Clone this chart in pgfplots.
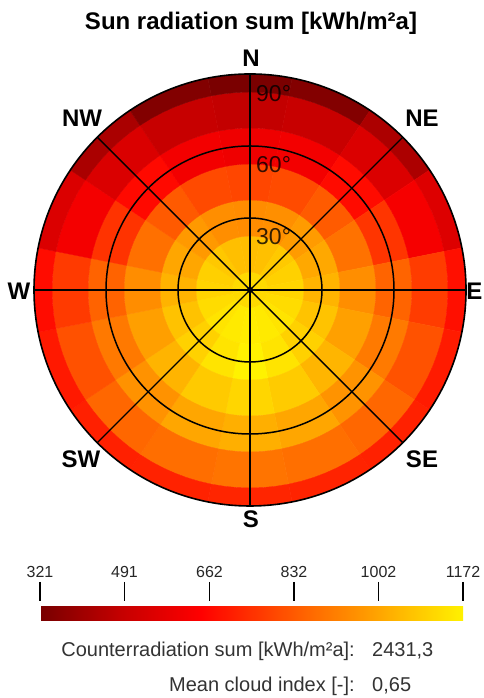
\documentclass[border=0pt]{standalone}
\usepackage{pgfplots}
\pgfplotsset{compat=1.18}
\usepackage{pgfplotstable}
\usepgfplotslibrary{patchplots}
\usepackage{fontspec}
\setmainfont{Liberation Sans}

\newcommand\titlefont{\fontsize{24pt}{24pt}\selectfont\bfseries}
\newcommand\dirfont{\fontsize{24pt}{24pt}\selectfont\bfseries}
\newcommand\degfont{\fontsize{23pt}{23pt}\selectfont}
\newcommand\infofont{\fontsize{20pt}{20pt}\selectfont}

% Annual sun radiation sum [kWh/m^2a] by azimuth (deg from N, clockwise)
% and surface tilt (0 = horizontal ... 90 = vertical)
\pgfplotstableread{
az    t0   t15  t30  t45  t60  t75  t90
0     1120 1057 945  790  600  480  325
22.5  1120 1062 952  800  612  492  345
45    1120 1082 978  835  668  545  432
67.5  1120 1098 1008 885  755  620  550
90    1120 1108 1035 950  855  770  675
112.5 1120 1124 1068 990  905  815  700
135   1120 1142 1100 1038 960  862  712
157.5 1120 1155 1142 1085 1005 880  718
180   1120 1160 1172 1110 1024 890  722
202.5 1120 1155 1140 1083 1003 878  716
225   1120 1141 1098 1036 958  860  710
247.5 1120 1123 1066 988  902  812  697
270   1120 1106 1032 947  852  766  670
292.5 1120 1096 1005 882  750  615  545
315   1120 1080 975  832  664  540  428
337.5 1120 1060 950  798  610  490  343
}\radtable

% Each table cell becomes one ring sector: 22.5 deg wide, 15 deg of tilt deep,
% outlined by 7 points on the outer arc and 7 on the inner arc.
\gdef\sectorcells{}
\pgfplotstablegetrowsof{\radtable}
\pgfmathtruncatemacro\lastrow{\pgfplotsretval-1}
\foreach \i in {0,...,\lastrow}{%
  \foreach \t in {0,15,30,45,60,75,90}{%
    \pgfplotstablegetelem{\i}{az}\of\radtable \let\az\pgfplotsretval
    \pgfplotstablegetelem{\i}{t\t}\of\radtable \let\val\pgfplotsretval
    \pgfmathsetmacro\rin{max(\t-7.5,0)}%
    \pgfmathsetmacro\rout{min(\t+7.5,90)}%
    \foreach \k in {0,...,6}{%
      \pgfmathsetmacro\th{90-\az-11.25+3.75*\k}%
      \pgfmathsetmacro\px{\rout*cos(\th)}%
      \pgfmathsetmacro\py{\rout*sin(\th)}%
      \xdef\sectorcells{\sectorcells (\px,\py) [\val]}%
    }%
    \foreach \k in {6,...,0}{%
      \pgfmathsetmacro\th{90-\az-11.25+3.75*\k}%
      \pgfmathsetmacro\px{\rin*cos(\th)}%
      \pgfmathsetmacro\py{\rin*sin(\th)}%
      \xdef\sectorcells{\sectorcells (\px,\py) [\val]}%
    }%
  }%
}

\begin{document}
\begin{tikzpicture}
\useasboundingbox (0,0) rectangle (483pt,698pt);

\begin{axis}[
  at={(34pt,192pt)}, anchor=south west,
  x=2.4pt, y=2.4pt,
  xmin=-90, xmax=90, ymin=-90, ymax=90,
  hide axis, clip=false,
  colormap={sunheat}{rgb255(0cm)=(120,0,0); rgb255(20cm)=(200,0,0);
    rgb255(38cm)=(255,0,0); rgb255(60cm)=(255,90,0);
    rgb255(80cm)=(255,165,0); rgb255(100cm)=(255,242,0)},
  point meta min=321, point meta max=1172,
  colorbar horizontal,
  colorbar style={
    at={(0.5035,-0.1759)}, anchor=north,
    scale only axis, width=423pt, height=39pt,
    axis line style={draw=none},
    xtick={321,491,662,832,1002,1172},
    xticklabels={321,491,662,832,1002,1172},
    xticklabel pos=right, xtick pos=right,
    xtick align=inside, major tick length=19pt,
    tick style={black, line width=1.2pt},
    xticklabel style={font=\fontsize{16pt}{16pt}\selectfont, text=black!85, inner sep=4pt},
  },
]
\edef\cellplot{\noexpand\addplot[patch, patch type=polygon, vertex count=14,
  shader=flat, point meta=explicit] coordinates {\sectorcells};}
\cellplot

% polar grid: tilt circles and compass directions
\draw[line width=1.5pt] (axis cs:0,0) circle[radius=30];
\draw[line width=1.5pt] (axis cs:0,0) circle[radius=60];
\draw[line width=1.6pt] (axis cs:0,0) circle[radius=90];
\draw[line width=1.4pt] (axis cs:0,-90) -- (axis cs:0,90);
\draw[line width=1.4pt] (axis cs:-90,0) -- (axis cs:90,0);
\draw[line width=1.4pt] (axis cs:-63.64,-63.64) -- (axis cs:63.64,63.64);
\draw[line width=1.4pt] (axis cs:-63.64,63.64) -- (axis cs:63.64,-63.64);
\fill (axis cs:0,0) circle[radius=1.3];
\end{axis}

\node[anchor=base] at (251pt,668.7pt) {\titlefont Sun radiation sum [kWh/m²a]};

\node[anchor=base] at (251pt,631pt) {\dirfont N};
\node[anchor=base] at (82pt,571pt) {\dirfont NW};
\node[anchor=base] at (422pt,571pt) {\dirfont NE};
\node[anchor=base] at (19pt,398.5pt) {\dirfont W};
\node[anchor=base east, inner sep=0pt] at (482.5pt,398.5pt) {\dirfont E};
\node[anchor=base] at (81pt,230pt) {\dirfont SW};
\node[anchor=base] at (422pt,230pt) {\dirfont SE};
\node[anchor=base] at (251pt,170pt) {\dirfont S};

\node[anchor=base west, inner sep=0pt, text=black, text opacity=0.8] at (256pt,596.3pt) {\degfont 90°};
\node[anchor=base west, inner sep=0pt, text=black, text opacity=0.8] at (256pt,525pt) {\degfont 60°};
\node[anchor=base west, inner sep=0pt, text=black, text opacity=0.8] at (256pt,453pt) {\degfont 30°};

\node[anchor=base east, inner sep=0pt, text=black!80] at (355pt,41.3pt) {\infofont Counterradiation sum [kWh/m²a]:};
\node[anchor=base west, inner sep=0pt, text=black!80] at (372pt,41.3pt) {\infofont 2431,3};
\node[anchor=base east, inner sep=0pt, text=black!80] at (355pt,6.3pt) {\infofont Mean cloud index [-]:};
\node[anchor=base west, inner sep=0pt, text=black!80] at (372pt,6.3pt) {\infofont 0,65};
\end{tikzpicture}
\end{document}
